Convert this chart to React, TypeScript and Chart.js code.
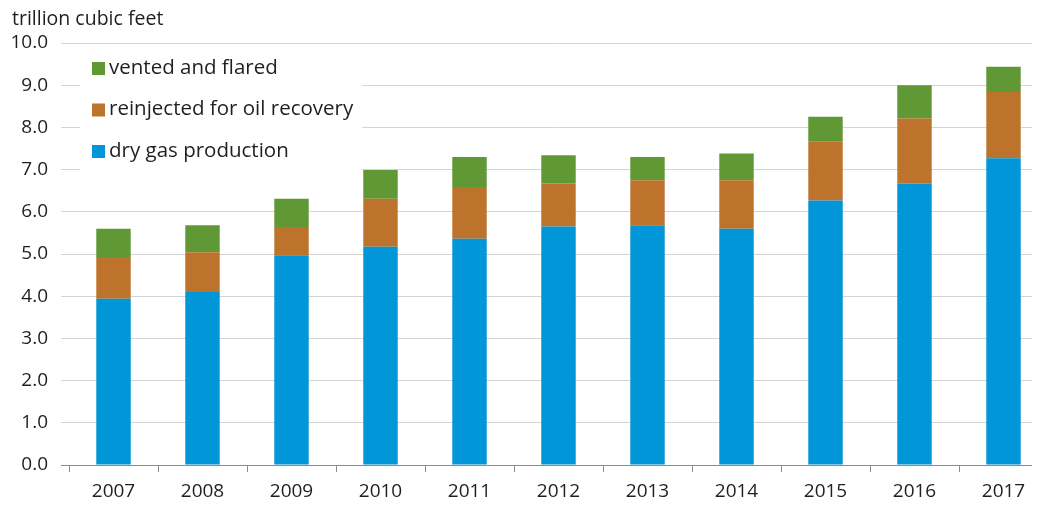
import React, { useEffect, useRef } from "react";
import { Chart, registerables } from "chart.js";

Chart.register(...registerables);

const years = ["2007", "2008", "2009", "2010", "2011", "2012", "2013", "2014", "2015", "2016", "2017"];
const dryGas = [3.94, 4.10, 4.97, 5.17, 5.36, 5.65, 5.68, 5.60, 6.27, 6.67, 7.27];
const reinjected = [0.99, 0.94, 0.67, 1.14, 1.23, 1.02, 1.07, 1.15, 1.39, 1.54, 1.57];
const vented = [0.67, 0.64, 0.67, 0.68, 0.71, 0.67, 0.55, 0.63, 0.59, 0.79, 0.60];
const yTickValues = [0, 1, 2, 3, 4, 5, 6, 7, 8, 9, 10];
const unitLabel = "trillion cubic feet";

const BLUE = "#0096d7";
const ORANGE = "#bd732c";
const GREEN = "#5f9834";
const FONT = "'Open Sans', sans-serif";
const TEXT = "#1f1f1f";

const legendItems = [
  { label: "vented and flared", color: GREEN },
  { label: "reinjected for oil recovery", color: ORANGE },
  { label: "dry gas production", color: BLUE },
];

const overlayPlugin = {
  id: "overlay",
  afterDraw(chart: any) {
    const ctx = chart.ctx;
    ctx.save();
    ctx.fillStyle = TEXT;
    ctx.textBaseline = "middle";
    ctx.textAlign = "left";
    ctx.font = `19.5px ${FONT}`;
    ctx.fillText(unitLabel, 12, 19);
    ctx.fillStyle = "#ffffff";
    ctx.fillRect(80, 47, 282, 128);
    ctx.font = `20.5px ${FONT}`;
    legendItems.forEach((it, i) => {
      const cy = 68 + i * 41.5;
      ctx.fillStyle = it.color;
      ctx.fillRect(92, cy - 6, 13, 13);
      ctx.fillStyle = TEXT;
      ctx.fillText(it.label, 109, cy);
    });
    ctx.restore();
  },
};

export default function App() {
  const ref = useRef<HTMLCanvasElement>(null);
  useEffect(() => {
    if (!ref.current) return;
    const chart = new Chart(ref.current, {
      type: "bar",
      data: {
        labels: years,
        datasets: [
          { label: "dry gas production", data: dryGas, backgroundColor: BLUE },
          { label: "reinjected for oil recovery", data: reinjected, backgroundColor: ORANGE },
          { label: "vented and flared", data: vented, backgroundColor: GREEN },
        ],
      },
      options: {
        responsive: false,
        animation: false,
        devicePixelRatio: 1,
        layout: { padding: { top: 43, right: 22, left: 0, bottom: 0 } },
        datasets: { bar: { categoryPercentage: 1, barPercentage: 0.387 } },
        plugins: { legend: { display: false }, tooltip: { enabled: false }, title: { display: false } },
        scales: {
          x: {
            stacked: true,
            offset: true,
            grid: {
              offset: true,
              drawOnChartArea: false,
              drawTicks: true,
              tickLength: 7,
              color: "#8c8c8c",
            },
            border: { display: true, color: "#8c8c8c", width: 1 },
            ticks: { color: TEXT, font: { family: FONT, size: 19 }, padding: 8, maxRotation: 0 },
            afterFit(scale: any) {
              scale.height = 41;
            },
          },
          y: {
            stacked: true,
            min: 0,
            max: 10,
            afterBuildTicks(scale: any) {
              scale.ticks = yTickValues.map((v) => ({ value: v }));
            },
            grid: {
              color: (c: any) => (c.tick && c.tick.value === 0 ? "#8c8c8c" : "#d4d4d4"),
              lineWidth: 1,
              tickLength: 8,
            },
            border: { display: false },
            ticks: {
              color: TEXT,
              font: { family: FONT, size: 19 },
              padding: 13,
              callback: (v: any) => Number(v).toFixed(1),
            },
            afterFit(scale: any) {
              scale.width = 69;
            },
          },
        },
      },
      plugins: [overlayPlugin],
    });
    return () => chart.destroy();
  }, []);
  return (
    <div style={{ margin: -8, width: 1040, height: 506, overflow: "hidden", position: "relative" }}>
      <canvas ref={ref} width={1070} height={506} style={{ width: 1070, height: 506, display: "block" }} />
    </div>
  );
}
